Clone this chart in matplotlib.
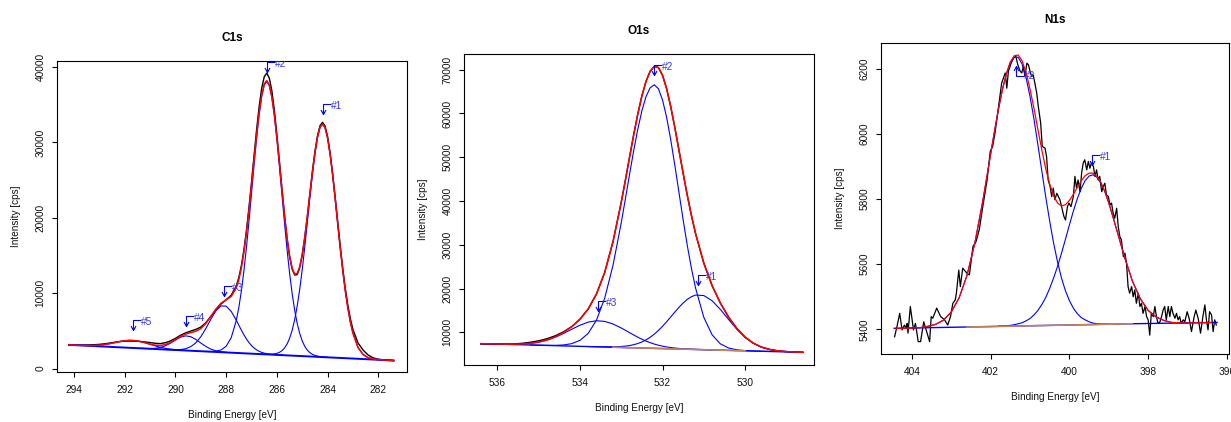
import matplotlib
matplotlib.use('Agg')
import matplotlib.pyplot as plt
from matplotlib.path import Path

plt.rcParams['font.family'] = ['Liberation Sans', 'DejaVu Sans']

# ---------------- C1s ----------------
c1s_be = [281.4, 281.6, 281.8, 282.0, 282.2, 282.4, 282.6, 282.8,
          283.0, 283.1, 283.2, 283.3, 283.4, 283.5, 283.6, 283.7, 283.8, 283.9,
          284.0, 284.1, 284.2, 284.3, 284.4, 284.5, 284.6, 284.7, 284.8, 284.9,
          285.0, 285.1, 285.2, 285.3, 285.4, 285.5, 285.6, 285.7, 285.8, 285.9,
          286.0, 286.1, 286.2, 286.3, 286.4, 286.5, 286.6, 286.7, 286.8, 286.9,
          287.0, 287.1, 287.2, 287.3, 287.4, 287.5, 287.6,
          287.8, 288.0, 288.2, 288.4, 288.6, 288.8, 289.0, 289.2, 289.4, 289.6,
          289.8, 290.0, 290.2, 290.4, 290.6, 290.8, 291.0, 291.2, 291.4, 291.6,
          291.8, 292.0, 292.2, 292.4, 292.6, 292.8, 293.0, 293.2, 293.4, 293.6,
          293.8, 294.0, 294.2]
c1s_counts = [1081, 1124, 1170, 1246, 1425, 1800, 2468, 3406,
              5183, 6577, 8373, 10586, 13205, 16196, 19407, 22689, 25810, 28576,
              30759, 32163, 32663, 32210, 30865, 28773, 26141, 23183, 20177, 17401,
              15066, 13385, 12462, 12419, 13236, 14909, 17319, 20386, 23860, 27491,
              31023, 34267, 36875, 38535, 39202, 38686, 37182, 34741, 31668, 28258,
              24728, 21382, 18347, 15755, 13670, 12093, 10979,
              9740, 9134, 8583, 7831, 6947, 6100, 5517, 5205, 4980, 4743,
              4435, 4020, 3668, 3437, 3324, 3366, 3458, 3542, 3610, 3642,
              3655, 3655, 3594, 3501, 3391, 3298, 3220, 3180, 3149, 3137,
              3138, 3145, 3155]
c1s_fit = [1081, 1114, 1150, 1196, 1275, 1450, 1868, 2806,
           4683, 6127, 7973, 10236, 12905, 15921, 19157, 22464, 25610, 28376,
           30559, 31963, 32463, 32035, 30715, 28648, 26041, 23133, 20177, 17451,
           15166, 13510, 12612, 12544, 13336, 14959, 17319, 20286, 23660, 27191,
           30623, 33667, 36075, 37635, 38202, 37736, 36282, 33991, 31068, 27758,
           24328, 21007, 17997, 15430, 13370, 11818, 10729,
           9590, 9134, 8683, 7931, 6947, 6000, 5317, 4955, 4780, 4593,
           4285, 3870, 3468, 3187, 3074, 3116, 3258, 3442, 3610, 3722,
           3755, 3705, 3594, 3451, 3311, 3198, 3120, 3080, 3069, 3077,
           3098, 3125, 3155]
c1s_p1 = [1081, 1114, 1150, 1196, 1275, 1450, 1868, 2806,
          4683, 6127, 7973, 10236, 12905, 15921, 19157, 22464, 25610, 28376,
          30552, 31948, 32435, 31981, 30617, 28473, 25739, 22626, 19352, 16148,
          13164, 10527, 8297, 6484, 5072, 4019, 3259, 2736, 2387, 2166,
          2033, 1959, 1923, 1909, 1909, 1916, 1927]
c1s_p2 = [1509, 1533, 1563, 1605, 1665, 1758, 1901, 2123, 2457, 2951,
          3666, 4663, 6012, 7773, 9993, 12685, 15821, 19328, 23064, 26830,
          30406, 33532, 35979, 37545, 38091, 37577, 36043, 33630, 30536, 26992,
          23258, 19554, 16081, 12977, 10317, 8129, 6400,
          4120, 2975, 2485, 2313, 2275, 2287]
c1s_p3 = [1797, 1815, 1836, 1860, 1891, 1931, 1984, 2057, 2158, 2299,
          2488, 2738, 3058, 3457, 3937, 4490, 5106, 5758, 6414,
          7583, 8290, 8323, 7680, 6576, 5333, 4228, 3415, 2909, 2644,
          2535, 2506, 2517, 2542]
c1s_p4 = [2169, 2241, 2368, 2590, 2940, 3401, 3885, 4245, 4350, 4172, 3794,
          3371, 3024, 2804, 2700, 2670, 2679, 2703]
c1s_p5 = [2417, 2462, 2518, 2594, 2699, 2841, 3020, 3224, 3432, 3608, 3722,
          3755, 3705, 3594, 3451, 3311, 3198, 3120, 3080, 3069, 3077, 3098,
          3125, 3155]
c1s_comp_start = [0, 18, 36, 56, 64]   # index into c1s_be where each component begins
c1s_bg_be = [281.4, 294.2]
c1s_bg = [1081, 3155]
c1s_mark_text = ['#1', '#2', '#3', '#4', '#5']
c1s_mark_be = [284.2, 286.39, 288.08, 289.58, 291.66]
c1s_mark_y = [33780, 39390, 9640, 5660, 5130]

# ---------------- O1s ----------------
o1s_be = [528.6, 528.8, 529.0, 529.2, 529.4, 529.6, 529.8, 530.0, 530.2, 530.4,
          530.6, 530.8, 531.0, 531.2,
          531.3, 531.4, 531.5, 531.6, 531.7, 531.8, 531.9, 532.0, 532.1, 532.2,
          532.3, 532.4, 532.5, 532.6, 532.7, 532.8, 532.9, 533.0,
          533.2, 533.4, 533.6, 533.8, 534.0, 534.2, 534.4, 534.6, 534.8, 535.0,
          535.2, 535.4, 535.6, 535.8, 536.0, 536.2, 536.4]
o1s_counts = [5440, 5510, 5611, 5780, 6083, 6622, 7526, 8920, 10897, 13490,
              16716, 20706, 25823, 32584,
              36713, 41306, 46308, 51522, 56695, 61512, 65643, 68729, 70502, 70771,
              69645, 67342, 64016, 59833, 55067, 49948, 44759, 39709,
              30703, 23729, 18760, 15364, 13006, 11322, 10113, 9216, 8547, 8074,
              7741, 7503, 7364, 7306, 7296, 7318, 7347]
o1s_fit = [5440, 5510, 5611, 5780, 6083, 6622, 7526, 8920, 10897, 13490,
           16716, 20706, 25823, 32584,
           36713, 41306, 46308, 51522, 56695, 61512, 65643, 68729, 70502, 70771,
           69645, 67342, 64016, 59833, 55067, 49948, 44759, 39709,
           30703, 23729, 18760, 15364, 13006, 11272, 9963, 8966, 8247, 7774,
           7491, 7353, 7304, 7306, 7336, 7378, 7427]
o1s_p1 = [5440, 5510, 5611, 5780, 6083, 6619, 7512, 8868, 10719, 12950,
          15266, 17233, 18414, 18520,
          18155, 17536, 16717, 15737, 14657, 13538, 12434, 11389, 10431, 9591,
          8874, 8282, 7815, 7453, 7182, 6988, 6856, 6769,
          6693, 6689, 6720, 6764]
o1s_p2 = [5635, 5689, 5751, 5840, 6017, 6430, 7391, 9463, 13444, 20135,
          24640, 29856, 35672, 41847, 48063, 53938, 59084, 63089, 65655, 66551,
          65876, 63852, 60617, 56383, 51428, 46024, 40480, 35045,
          25306, 17847, 12799, 9780, 8176, 7422, 7123, 7036, 7037, 7074, 7118]
o1s_p3 = [5996, 6053, 6119,
          6158, 6206, 6263, 6332, 6421, 6532, 6673, 6849, 7066, 7331,
          7647, 8012, 8438, 8903, 9413, 9944, 10483, 11005,
          11916, 12507, 12659, 12340, 11641, 10712, 9753, 8894, 8225, 7767,
          7491, 7353, 7304, 7306, 7336, 7378, 7427]
o1s_comp_start = [0, 4, 11]
o1s_bg_be = [528.6, 530.0, 533.2, 536.4]
o1s_bg = [5430, 5788, 6606, 7425]
o1s_mark_text = ['#1', '#2', '#3']
o1s_mark_be = [531.15, 532.2, 533.56]
o1s_mark_y = [20900, 68860, 14800]

# ---------------- N1s ----------------
n1s_be = [396.4, 396.6, 396.8, 397.0, 397.2, 397.4, 397.6, 397.8, 398.0, 398.2,
          398.4, 398.6, 398.8,
          398.9, 399.0, 399.1, 399.2, 399.3, 399.4, 399.5, 399.6, 399.7, 399.8,
          399.9, 400.0, 400.1, 400.2, 400.3, 400.4, 400.5, 400.6, 400.7, 400.8,
          400.9, 401.0, 401.1, 401.2, 401.3, 401.4, 401.5, 401.6, 401.7, 401.8,
          401.9, 402.0, 402.1, 402.2,
          402.4, 402.6, 402.8, 403.0, 403.2, 403.4, 403.6, 403.8, 404.0, 404.2,
          404.4]
n1s_fit = [5421, 5420, 5420, 5419, 5420, 5421, 5427, 5438, 5458, 5494,
           5548, 5622, 5706,
           5748, 5788, 5824, 5851, 5870, 5880, 5880, 5872, 5856, 5836,
           5815, 5796, 5783, 5779, 5788, 5810, 5846, 5893, 5951, 6014,
           6079, 6138, 6189, 6225, 6243, 6241, 6222, 6187, 6138, 6078,
           6010, 5939, 5866, 5794,
           5666, 5566, 5497, 5453, 5428, 5415, 5409, 5405, 5404, 5403,
           5403]
n1s_p1 = [5419, 5420, 5421, 5427, 5438, 5458, 5494, 5548, 5622, 5706,
          5748, 5788, 5823, 5849, 5867, 5875, 5871, 5857, 5833, 5801,
          5763, 5721, 5677, 5634, 5594, 5558, 5526, 5498, 5476, 5458,
          5444, 5433, 5426, 5420, 5417, 5414, 5412, 5411, 5410, 5410]
n1s_p2 = [5415, 5416, 5416, 5417, 5419, 5423, 5429, 5436, 5448, 5465,
          5488, 5518, 5557, 5606, 5664, 5732, 5806, 5886, 5967, 6046,
          6115, 6173, 6215, 6236, 6237, 6219, 6185, 6137, 6078, 6011,
          5939, 5866, 5794,
          5666, 5566, 5497, 5453, 5428, 5415, 5409, 5405, 5404]
n1s_comp_start = [3, 14]
n1s_bg_be = [396.25, 398.4, 402.6, 404.45]
n1s_bg = [5421, 5417, 5407, 5403]
n1s_raw_be = [404.44, 404.38, 404.31, 404.25, 404.19, 404.14, 404.12, 404.10, 404.04, 403.96,
              403.91, 403.84, 403.78, 403.70, 403.55, 403.51, 403.47, 403.37, 403.27, 403.17,
              403.09, 403.02, 402.96, 402.90, 402.87, 402.81, 402.77, 402.71, 402.60, 402.54,
              402.45, 402.37, 402.29, 402.20, 402.09, 402.01, 401.95, 401.89, 401.80, 401.72,
              401.63, 401.59, 401.55, 401.48, 401.42, 401.36, 401.31, 401.25, 401.21, 401.17,
              401.13, 401.08, 401.04, 401.00, 400.96, 400.92, 400.87, 400.83, 400.79, 400.73,
              400.69, 400.62, 400.58, 400.54, 400.49, 400.45, 400.41, 400.37, 400.32, 400.28,
              400.24, 400.20, 400.14, 400.10, 400.05, 400.01, 399.96, 399.90, 399.86, 399.82,
              399.78, 399.73, 399.69, 399.65, 399.61, 399.56, 399.52, 399.48, 399.44, 399.39,
              399.35, 399.31, 399.27, 399.23, 399.18, 399.14, 399.10, 399.06, 399.01, 398.97,
              398.93, 398.89, 398.85, 398.80, 398.76, 398.72, 398.68, 398.63, 398.59, 398.55,
              398.51, 398.47, 398.42, 398.38, 398.34, 398.30, 398.25, 398.21, 398.17, 398.13,
              398.08, 398.04, 398.00, 397.96, 397.92, 397.87, 397.83, 397.79, 397.75, 397.70,
              397.66, 397.62, 397.58, 397.54, 397.49, 397.45, 397.41, 397.37, 397.32, 397.28,
              397.24, 397.20, 397.16, 397.11, 397.07, 397.01, 396.96, 396.90, 396.84, 396.79,
              396.73, 396.67, 396.61, 396.56, 396.52, 396.48, 396.44, 396.39, 396.35, 396.31,
              396.27]
n1s_raw = [5377, 5408, 5449, 5398, 5413, 5403, 5418, 5388, 5470, 5398,
           5418, 5362, 5362, 5423, 5362, 5439, 5434, 5465, 5439, 5429,
           5413, 5439, 5480, 5490, 5511, 5582, 5531, 5588, 5572, 5567,
           5654, 5670, 5706, 5777, 5859, 5947, 5962, 6003, 6085, 6157,
           6188, 6141, 6193, 6218, 6234, 6239, 6213, 6193, 6188, 6208,
           6177, 6218, 6213, 6193, 6177, 6182, 6152, 6126, 6085, 6034,
           5962, 5957, 5931, 5859, 5839, 5808, 5834, 5798, 5818, 5808,
           5798, 5777, 5747, 5736, 5777, 5788, 5777, 5808, 5870, 5834,
           5859, 5823, 5880, 5911, 5921, 5890, 5916, 5895, 5911, 5900,
           5870, 5890, 5859, 5870, 5823, 5839, 5849, 5813, 5808, 5782,
           5788, 5757, 5741, 5772, 5716, 5685, 5675, 5623, 5634, 5603,
           5531, 5511, 5531, 5500, 5521, 5480, 5511, 5470, 5480, 5449,
           5470, 5439, 5429, 5382, 5449, 5439, 5470, 5439, 5418, 5423,
           5439, 5459, 5470, 5429, 5470, 5439, 5470, 5449, 5434, 5449,
           5429, 5439, 5418, 5429, 5423, 5454, 5434, 5393, 5434, 5459,
           5434, 5388, 5439, 5475, 5429, 5398, 5454, 5444, 5393, 5429,
           5413]
n1s_mark_text = ['#1', '#2']
n1s_mark_be = [399.42, 401.35]
n1s_mark_y = [5905, 6208]
n1s_mark_up = [False, True]

W, H = 1231, 422
fig = plt.figure(figsize=(W / 100, H / 100), dpi=100)

BLUE = '#0000FF'
RED = '#FF0000'
BROWN = '#C08462'
MARK = '#3535FF'

# marker: small arrow pointing at the peak with a bar to the label
down_mark = Path([(0, 0), (0, 10), (8, 10), (-2.5, 4.5), (0, 0), (2.5, 4.5)],
                 [Path.MOVETO, Path.LINETO, Path.LINETO,
                  Path.MOVETO, Path.LINETO, Path.LINETO])
up_mark = Path([(0, 0), (0, -10), (8, -10), (-2.5, -4.5), (0, 0), (2.5, -4.5)],
               [Path.MOVETO, Path.LINETO, Path.LINETO,
                Path.MOVETO, Path.LINETO, Path.LINETO])


def panel(box, title, xlim, ylim, xticks, yticks):
    left, top, right, bottom = box
    ax = fig.add_axes([left / W, 1 - bottom / H, (right - left) / W, (bottom - top) / H])
    ax.set_xlim(xlim)
    ax.set_ylim(ylim)
    ax.set_xticks(xticks, [str(t) for t in xticks])
    ax.set_yticks(yticks, [str(t) for t in yticks])
    ax.tick_params(direction='out', length=3.6, width=0.8, labelsize=7.3,
                   labelcolor='#111111')
    ax.tick_params(axis='x', pad=5.5)
    ax.tick_params(axis='y', pad=4.5)
    for lbl in ax.get_yticklabels():
        lbl.set_rotation(90)
        lbl.set_va('center')
        lbl.set_ha('right')
    for sp in ax.spines.values():
        sp.set_linewidth(0.8)
    cx = (left + right) / 2
    fig.text(cx / W, 1 - (top - 23) / H, title, ha='center', va='center',
             fontsize=8.5, fontweight='bold')
    fig.text(cx / W, 1 - (bottom + 43) / H, 'Binding Energy [eV]', ha='center',
             va='center', fontsize=7.2, color='#111111')
    fig.text((left - 41) / W, 1 - ((top + bottom) / 2) / H, 'Intensity [cps]',
             rotation=90, ha='center', va='center', fontsize=7.2, color='#111111')
    return ax


def marks(ax, texts, xs, ys, ups=None):
    for i, (t, x, y) in enumerate(zip(texts, xs, ys)):
        up = ups[i] if ups else False
        ax.plot([x], [y], marker=up_mark if up else down_mark, markersize=14.4,
                markeredgecolor=BLUE, markerfacecolor='none', markeredgewidth=0.8,
                linestyle='none')
        ax.annotate(t, xy=(x, y), xytext=(8, -10 if up else 8),
                    textcoords='offset pixels', ha='left', va='center',
                    fontsize=7.3, color=MARK, clip_on=True)


# C1s
ax = panel((57, 61, 407, 372), 'C1s', (294.67, 280.87), (-442, 40796),
           [282, 284, 286, 288, 290, 292, 294], [0, 10000, 20000, 30000, 40000])
ax.plot(c1s_be, c1s_counts, color='black', lw=1.0)
ax.plot(c1s_bg_be, c1s_bg, color=BLUE, lw=1.4)
for comp, s in zip([c1s_p1, c1s_p2, c1s_p3, c1s_p4, c1s_p5], c1s_comp_start):
    ax.plot(c1s_be[s:s + len(comp)], comp, color=BLUE, lw=0.8)
ax.plot(c1s_be, c1s_fit, color=RED, lw=1.1)
marks(ax, c1s_mark_text, c1s_mark_be, c1s_mark_y)

# O1s
ax = panel((464, 54, 814, 365), 'O1s', (536.81, 528.33), (2547, 73586),
           [530, 532, 534, 536], [10000, 20000, 30000, 40000, 50000, 60000, 70000])
ax.plot(o1s_be, o1s_counts, color='black', lw=1.0)
ax.plot(o1s_bg_be, o1s_bg, color=BLUE, lw=1.0)
for comp, s in zip([o1s_p1, o1s_p2, o1s_p3], o1s_comp_start):
    ax.plot(o1s_be[s:s + len(comp)], comp, color=BLUE, lw=0.8)
ax.plot(o1s_bg_be[1:3], o1s_bg[1:3], color=BROWN, lw=1.2)
ax.plot(o1s_be, o1s_fit, color=RED, lw=1.1)
marks(ax, o1s_mark_text, o1s_mark_be, o1s_mark_y)

# N1s
ax = panel((881, 43, 1229, 354), 'N1s', (404.785, 395.947), (5324, 6280),
           [396, 398, 400, 402, 404], [5400, 5600, 5800, 6000, 6200])
ax.plot(n1s_raw_be, n1s_raw, color='black', lw=0.9)
ax.plot(n1s_bg_be, n1s_bg, color=BLUE, lw=1.0)
for comp, s in zip([n1s_p1, n1s_p2], n1s_comp_start):
    ax.plot(n1s_be[s:s + len(comp)], comp, color=BLUE, lw=0.8)
ax.plot(n1s_bg_be[1:3], n1s_bg[1:3], color=BROWN, lw=1.2)
ax.plot(n1s_be, n1s_fit, color=RED, lw=0.9)
marks(ax, n1s_mark_text, n1s_mark_be, n1s_mark_y, n1s_mark_up)

fig.savefig('out.png', dpi=100)
